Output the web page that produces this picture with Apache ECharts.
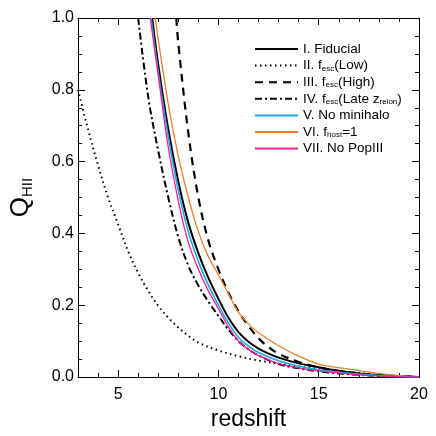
<!DOCTYPE html>
<html lang="en">
<head>
<meta charset="UTF-8">
<title>Q_HII vs redshift</title>
<script src="https://cdn.jsdelivr.net/npm/echarts@6/dist/echarts.min.js"></script>
<style>
    html, body { margin: 0; padding: 0; background: #fff; }
    #chart { width: 436px; height: 436px; }
</style>
</head>
<body>
<div id="chart"></div>
<script>
    // redshift / Q_HII, one pair of arrays per model
    var zFid = [6.7, 7.0, 7.5, 8.0, 8.5, 9.0, 9.5, 10.0, 10.5, 11.0, 11.5, 12.0, 12.5, 13.0, 14.0, 15.0, 16.0, 17.0, 18.0, 19.0, 20.0];
    var qFid = [1.0, 0.87, 0.69, 0.545, 0.43, 0.345, 0.276, 0.218, 0.165, 0.125, 0.098, 0.079, 0.065, 0.054, 0.038, 0.027, 0.017, 0.01, 0.005, 0.002, 0.0];

    var zLow = [3.0, 3.5, 4.0, 4.5, 5.0, 5.5, 6.0, 6.5, 7.0, 7.5, 8.0, 8.5, 9.0, 10.0, 11.0, 12.0, 13.0, 14.0, 15.0, 16.0, 17.0, 18.0, 19.0, 20.0];
    var qLow = [0.80, 0.69, 0.59, 0.50, 0.425, 0.35, 0.29, 0.24, 0.198, 0.165, 0.138, 0.115, 0.096, 0.074, 0.058, 0.046, 0.037, 0.029, 0.022, 0.016, 0.011, 0.006, 0.003, 0.0];

    var zHigh = [7.9, 8.0, 8.5, 9.0, 9.5, 10.0, 10.5, 11.0, 11.5, 12.0, 12.5, 13.0, 14.0, 15.0, 16.0, 17.0, 18.0, 19.0, 20.0];
    var qHigh = [1.0, 0.93, 0.68, 0.5, 0.38, 0.30, 0.235, 0.183, 0.142, 0.108, 0.083, 0.065, 0.042, 0.027, 0.017, 0.01, 0.005, 0.002, 0.0];

    var zLate = [6.0, 6.5, 7.0, 7.5, 8.0, 8.5, 9.0, 9.5, 10.0, 10.5, 11.0, 11.5, 12.0, 13.0, 14.0, 15.0, 16.0, 17.0, 18.0, 19.0, 20.0];
    var qLate = [1.0, 0.78, 0.63, 0.5, 0.39, 0.31, 0.255, 0.21, 0.17, 0.132, 0.1, 0.077, 0.06, 0.036, 0.024, 0.016, 0.01, 0.006, 0.003, 0.001, 0.0];

    var zMini = [6.65, 7.0, 7.5, 8.0, 8.5, 9.0, 9.5, 10.0, 10.5, 11.0, 11.5, 12.0, 13.0, 14.0, 15.0, 16.0, 17.0, 18.0, 19.0, 20.0];
    var qMini = [1.0, 0.85, 0.67, 0.52, 0.405, 0.322, 0.256, 0.2, 0.15, 0.11, 0.086, 0.068, 0.045, 0.03, 0.02, 0.013, 0.008, 0.004, 0.001, 0.0];

    var zHost = [6.85, 7.0, 7.5, 8.0, 8.5, 9.0, 9.5, 10.0, 10.5, 11.0, 11.5, 12.0, 13.0, 14.0, 15.0, 16.0, 17.0, 18.0, 19.0, 20.0];
    var qHost = [1.0, 0.94, 0.76, 0.615, 0.5, 0.405, 0.335, 0.285, 0.232, 0.18, 0.148, 0.123, 0.087, 0.058, 0.036, 0.026, 0.018, 0.01, 0.004, 0.0];

    var zNoP3 = [6.6, 7.0, 7.5, 8.0, 8.5, 9.0, 9.5, 10.0, 10.5, 11.0, 11.5, 12.0, 13.0, 14.0, 15.0, 16.0, 17.0, 18.0, 19.0, 20.0];
    var qNoP3 = [1.0, 0.84, 0.64, 0.49, 0.375, 0.30, 0.24, 0.19, 0.14, 0.1, 0.077, 0.06, 0.037, 0.025, 0.017, 0.011, 0.006, 0.003, 0.001, 0.0];

    var seriesNames = ['I. Fiducial', 'II. fesc(Low)', 'III. fesc(High)', 'IV. fesc(Late zreion)', 'V. No minihalo', 'VI. fhost=1', 'VII. No PopIII'];
    var legendLabels = ['I. Fiducial', 'II. f{s|esc}(Low)', 'III. f{s|esc}(High)', 'IV. f{s|esc}(Late z{s|reion})', 'V. No minihalo', 'VI. f{s|host}=1', 'VII. No PopIII'];
    var xMajor = [5, 10, 15, 20];

    function pairs(z, q) {
        var out = [];
        for (var i = 0; i < z.length; i++) out.push([z[i], q[i]]);
        return out;
    }

    function mkLine(name, z, q, color, width, type) {
        return {
            name: name, type: 'line', data: pairs(z, q),
            xAxisIndex: 0, yAxisIndex: 0,
            showSymbol: false, symbol: 'none', smooth: 0.35,
            lineStyle: { color: color, width: width, type: type },
            itemStyle: { color: color },
            clip: true, silent: true, animation: false
        };
    }

    var font = 'Liberation Sans, Arial, sans-serif';
    var chart = echarts.init(document.getElementById('chart'));

    function xAx(pos, major, labels) {
        var ax = {
            type: 'value', min: 3, max: 20, position: pos,
            axisLine: { show: true, onZero: false, lineStyle: { color: '#000', width: 1 } },
            splitLine: { show: false },
            axisLabel: { show: false }
        };
        if (major) {
            ax.axisTick = { show: true, inside: true, length: 7, customValues: xMajor, lineStyle: { color: '#000' } };
            if (labels) ax.axisLabel = { show: true, customValues: xMajor, color: '#000', fontSize: 16, fontFamily: font, margin: 10 };
        } else {
            ax.interval = 1;
            ax.axisTick = { show: true, inside: true, length: 4, lineStyle: { color: '#000' } };
        }
        return ax;
    }

    function yAx(pos, labels) {
        return {
            type: 'value', min: 0, max: 1, interval: 0.2, position: pos,
            axisLine: { show: true, onZero: false, lineStyle: { color: '#000', width: 1 } },
            axisTick: { show: true, inside: true, length: 7, lineStyle: { color: '#000' } },
            minorTick: { show: true, splitNumber: 4, length: 4, lineStyle: { color: '#000' } },
            splitLine: { show: false }, minorSplitLine: { show: false },
            axisLabel: labels ? { show: true, color: '#000', fontSize: 16, fontFamily: font, margin: 4,
                formatter: function (v) { return v.toFixed(1); } } : { show: false }
        };
    }

    var xMain = xAx('bottom', true, true);
    xMain.name = 'redshift';
    xMain.nameLocation = 'middle';
    xMain.nameGap = 31;
    xMain.nameTextStyle = { color: '#000', fontSize: 23, fontFamily: font };

    var yMain = yAx('left', true);
    yMain.name = '{q|Q}{s|HII}';
    yMain.nameLocation = 'middle';
    yMain.nameGap = 43;
    yMain.nameRotate = 90;
    yMain.nameTextStyle = {
        color: '#000', fontFamily: font,
        rich: {
            q: { fontSize: 26, fontFamily: font, color: '#000', lineHeight: 28 },
            s: { fontSize: 15, fontFamily: font, color: '#000', verticalAlign: 'bottom', lineHeight: 28 }
        }
    };

    var option = {
        animation: false,
        backgroundColor: '#fff',
        grid: { left: 69, right: 17, top: 18, bottom: 53, containLabel: false },
        legend: {
            data: seriesNames,
            left: 249, top: 37,
            orient: 'vertical',
            itemWidth: 43, itemHeight: 14, itemGap: 2.6,
            selectedMode: false,
            itemStyle: { opacity: 0 },
            formatter: function (name) { return legendLabels[seriesNames.indexOf(name)]; },
            textStyle: {
                color: '#000', fontSize: 13.5, fontFamily: font, lineHeight: 14, padding: [0, 0, 0, 0],
                rich: { s: { fontSize: 8, fontFamily: font, color: '#000', verticalAlign: 'bottom', lineHeight: 12 } }
            }
        },
        xAxis: [xMain, xAx('bottom', false), xAx('top', true, false), xAx('top', false)],
        yAxis: [yMain, yAx('right', false)],
        series: [
            mkLine(seriesNames[1], zLow, qLow, '#000', 2, [1.5, 3.5]),
            mkLine(seriesNames[3], zLate, qLate, '#000', 2, [7, 3, 2, 3]),
            mkLine(seriesNames[2], zHigh, qHigh, '#000', 2.2, [8, 6]),
            mkLine(seriesNames[0], zFid, qFid, '#000', 2, 'solid'),
            mkLine(seriesNames[5], zHost, qHost, '#f07e2c', 1.3, 'solid'),
            mkLine(seriesNames[4], zMini, qMini, '#1ba6e4', 1.6, 'solid'),
            mkLine(seriesNames[6], zNoP3, qNoP3, '#f51e98', 1.3, 'solid')
        ]
    };
    chart.setOption(option);
</script>
</body>
</html>
